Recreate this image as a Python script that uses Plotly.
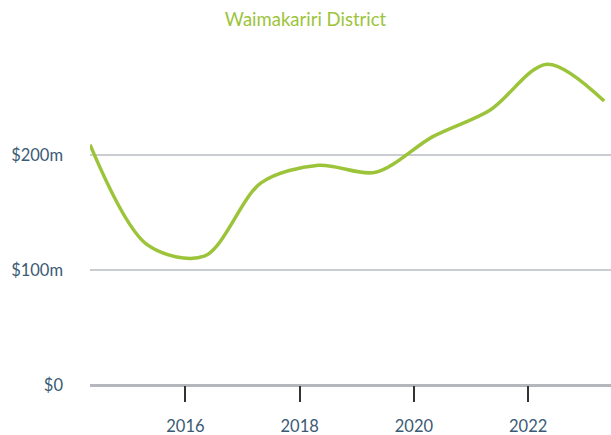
import plotly.graph_objects as go

# Values ($m, roughly one point per year)
years = [2014.33, 2015.33, 2016.33, 2017.33, 2018.33, 2019.33,
         2020.33, 2021.33, 2022.33, 2023.33]
values = [209, 122, 112, 176, 191, 185, 216, 239, 279, 247]

y_ticks = [0, 100, 200]
y_labels = ["$0", "$100m", "$200m"]
x_ticks = [2016, 2018, 2020, 2022]

green = "#9cc43a"
label_col = "#3b5a74"

fig = go.Figure()
fig.add_trace(go.Scatter(
    x=years, y=values, mode="lines",
    line=dict(color=green, width=3.5, shape="spline", smoothing=0.9),
    hoverinfo="skip", showlegend=False,
))

fig.update_layout(
    width=611, height=435,
    margin=dict(l=90, r=0, t=40, b=50),
    paper_bgcolor="white", plot_bgcolor="white",
    font=dict(family="Lato, sans-serif", color=label_col, size=16.5),
    title=dict(text="Waimakariri District", x=0.5, xanchor="center",
               y=0.954, yanchor="middle",
               font=dict(color=green, size=18.5, family="Lato, sans-serif")),
)

fig.update_xaxes(
    range=[2014.33, 2023.45], tickvals=x_ticks, ticktext=[str(t) for t in x_ticks],
    showgrid=False, zeroline=False, showline=False, automargin=False,
    ticks="outside", ticklen=16, tickwidth=2, tickcolor="#333333",
    ticklabelstandoff=10,
)
fig.update_yaxes(
    range=[0, 300], tickvals=y_ticks, ticktext=y_labels,
    showgrid=True, gridcolor="#c9cdd2", gridwidth=1.5, automargin=False,
    zeroline=True, zerolinecolor="#b4b8bc", zerolinewidth=3,
    showline=False, ticks="", ticklabelstandoff=26,
)

# drop the default 8px page margin so the figure sits at the window corner
fig.write_html("out.html", config={"displayModeBar": False},
               post_script="document.body.style.margin = '0';")
